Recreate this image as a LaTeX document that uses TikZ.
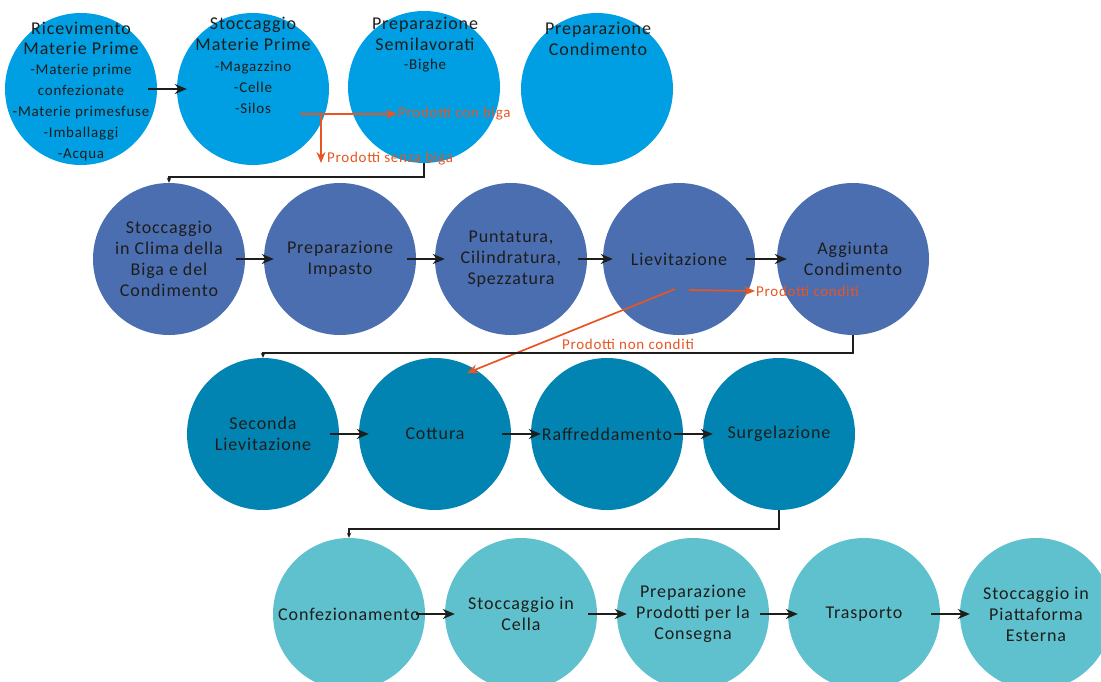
\documentclass[tikz,border=0pt]{standalone}
\usepackage{fontspec}
\setmainfont{Carlito}[LetterSpace=5]
\usetikzlibrary{arrows.meta,calc}

\definecolor{rowA}{RGB}{0,159,227}
\definecolor{rowB}{RGB}{74,110,176}
\definecolor{rowC}{RGB}{2,132,179}
\definecolor{rowD}{RGB}{96,193,206}
\definecolor{ink}{RGB}{29,29,27}
\definecolor{branch}{RGB}{232,85,35}

\tikzset{
  stage/.style={circle, minimum size=152pt, inner sep=0pt, text=ink, align=center,
    font=\fontsize{18}{21}\selectfont},
  title/.style={text=ink, align=center, inner sep=0pt, font=\fontsize{18}{20.5}\selectfont},
  items/.style={text=ink, align=center, inner sep=0pt, font=\fontsize{15}{21}\selectfont},
  flow/.style={draw=ink, line width=1.9pt, -{Stealth[length=12pt,width=10pt]},
    shorten <=-9pt, shorten >=-10pt},
  hand/.style={draw=ink, line width=1.5pt, -{Stealth[length=5pt,width=4.5pt]}},
  branchline/.style={draw=branch, line width=1.7pt, -{Stealth[length=11pt,width=9pt]}},
  branchlabel/.style={text=branch, inner sep=1pt, font=\fontsize{15}{17}\selectfont},
}

\begin{document}
\begin{tikzpicture}[x=1pt, y=-1pt]
\path[use as bounding box] (0,0) rectangle (1101,681);
\clip (0,0) rectangle (1101,681);

% ---- row 1: raw materials and semi-finished goods
\node[stage, fill=rowA] (rA1) at (81,89) {};
\node[stage, fill=rowA] (rA2) at (253,89) {};
\node[stage, fill=rowA] (rA3) at (424,87) {};
\node[stage, fill=rowA] (rA4) at (597,89) {};

\node[title] (tA1) at (81,38.5) {Ricevimento\\Materie Prime};
\node[items] (iA1) at (81,113) {-Materie prime\\confezionate\\-Materie primesfuse\\-Imballaggi\\-Acqua};
\node[title] (tA2) at (253,34) {Stoccaggio\\Materie Prime};
\node[items] (iA2) at (253,87) {-Magazzino\\-Celle\\-Silos};
\node[title] (tA3) at (425,34) {Preparazione\\Semilavorati};
\node[items] (iA3) at (425,66) {-Bighe};
\node[title] (tA4) at (598,39) {Preparazione\\Condimento};

% ---- row 2: dough
\node[stage, fill=rowB] (rB1) at (169,259) {Stoccaggio\\in Clima della\\Biga e del\\Condimento};
\node[stage, fill=rowB] (rB2) at (340,259) {Preparazione\\Impasto};
\node[stage, fill=rowB] (rB3) at (511,259) {Puntatura,\\Cilindratura,\\Spezzatura};
\node[stage, fill=rowB] (rB4) at (679,259) {Lievitazione};
\node[stage, fill=rowB] (rB5) at (853,259) {Aggiunta\\Condimento};

% ---- row 3: baking
\node[stage, fill=rowC] (rC1) at (263,434) {Seconda\\Lievitazione};
\node[stage, fill=rowC] (rC2) at (435,434) {Cottura};
\node[stage, fill=rowC] (rC3) at (607,434) {Raffreddamento};
\node[stage, fill=rowC] (rC4) at (779,434) {Surgelazione};

% ---- row 4: packing and delivery
\node[stage, fill=rowD] (rD1) at (349,614) {Confezionamento};
\node[stage, fill=rowD] (rD2) at (521,614) {Stoccaggio in\\Cella};
\node[stage, fill=rowD] (rD3) at (693,614) {Preparazione\\Prodotti per la\\Consegna};
\node[stage, fill=rowD] (rD4) at (864,614) {Trasporto};
\node[stage, fill=rowD] (rD5) at (1036,614) {Stoccaggio in\\Piattaforma\\Esterna};

% ---- main flow
\draw[flow] (rA1.east) -- (rA2.west);
\draw[flow] (rB1.east) -- (rB2.west);
\draw[flow] (rB2.east) -- (rB3.west);
\draw[flow] (rB3.east) -- (rB4.west);
\draw[flow] (rB4.east) -- (rB5.west);
\draw[flow] (rC1.east) -- (rC2.west);
\draw[flow] (rC2.east) -- (rC3.west);
\draw[flow] (rC3.east) -- (rC4.west);
\draw[flow] (rD1.east) -- (rD2.west);
\draw[flow] (rD2.east) -- (rD3.west);
\draw[flow] (rD3.east) -- (rD4.west);
\draw[flow] (rD4.east) -- (rD5.west);

% ---- branches
\node[branchlabel, anchor=west] (lcb) at (397,114) {Prodotti con biga};
\node[branchlabel, anchor=west] (lsb) at (326,159) {Prodotti senza biga};
\node[branchlabel, anchor=west] (lcd) at (755,291) {Prodotti conditi};
\node[branchlabel] (lnc) at (628,344) {Prodotti non conditi};

\coordinate (stocOut)  at ($(rA2.center)+(47,25)$);
\coordinate (stocDown) at ($(rA2.center)+(68,25)$);
\coordinate (senzaTip) at ($(rA2.center)+(68,74)$);
\coordinate (lievOut)  at ($(rB4.center)+(10,31)$);
\coordinate (lievDiag) at ($(rB4.center)+(-4,30)$);
\coordinate (cottIn)   at ($(rC2.center)+(32,-61)$);

\draw[branchline] (stocOut) -- (lcb.west);
\draw[branchline] (stocDown) -- (senzaTip);
\draw[branchline] (lievOut) -- (lcd.west);
\draw[branchline] (lievDiag) -- (cottIn);

% ---- row hand-overs
\draw[hand] (rA3.south) -- ++(0,14) -| (rB1.north);
\draw[hand] (rB5.south) -- ++(0,18) -| (rC1.north);
\draw[hand] (rC4.south) -- ++(0,19) -| (rD1.north);
\end{tikzpicture}
\end{document}
